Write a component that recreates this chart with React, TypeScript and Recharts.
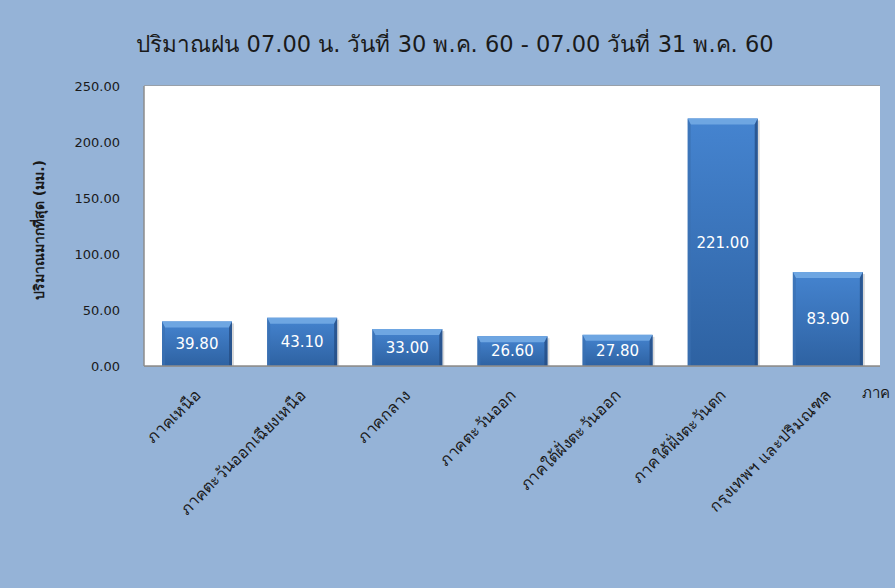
import { Bar, BarChart, CartesianGrid, LabelList, XAxis, YAxis } from 'recharts'

const regions = [
  'ภาคเหนือ',
  'ภาคตะวันออกเฉียงเหนือ',
  'ภาคกลาง',
  'ภาคตะวันออก',
  'ภาคใต้ฝั่งตะวันออก',
  'ภาคใต้ฝั่งตะวันตก',
  'กรุงเทพฯ และปริมณฑล',
]
const maxRain = [39.8, 43.1, 33.0, 26.6, 27.8, 221.0, 83.9]
const yTicks = [0, 50, 100, 150, 200, 250]

const title = 'ปริมาณฝน 07.00 น. วันที่ 30 พ.ค. 60 - 07.00 วันที่ 31 พ.ค. 60'
const yLabel = 'ปริมาณมากที่สุด (มม.)'
const xLabel = 'ภาค'

const data = regions.map((name, i) => ({ name, rain: maxRain[i] }))

const FONT = "Tahoma, 'DejaVu Sans', 'Noto Sans', sans-serif"
const BG = '#95b3d7'
const TEXT = '#1a1a1a'

function BevelBar(props: any) {
  const { x, y, width, height } = props
  if (!height || height <= 0) return null
  const b = Math.min(6, height / 3)
  const s = 3
  return (
    <g>
      <rect x={x + 2} y={y + 2} width={width} height={height - 2} fill="#000" opacity={0.15} />
      <rect x={x} y={y} width={width} height={height} fill="url(#barBody)" />
      <polygon
        points={`${x},${y} ${x + width},${y} ${x + width - s},${y + b} ${x + s},${y + b}`}
        fill="#6ea6e2"
      />
      <polygon
        points={`${x},${y} ${x + s},${y + b} ${x + s},${y + height} ${x},${y + height}`}
        fill="#3b70b2"
        opacity={0.7}
      />
      <polygon
        points={`${x + width},${y} ${x + width - s},${y + b} ${x + width - s},${y + height} ${x + width},${y + height}`}
        fill="#264e84"
        opacity={0.8}
      />
    </g>
  )
}

function RegionTick(props: any) {
  const { x, y, payload } = props
  return (
    <g transform={`translate(${x + 5},${y + 22})`}>
      <text
        transform="rotate(-45)"
        textAnchor="end"
        fontSize={16}
        fontFamily={FONT}
        fill={TEXT}
      >
        {payload.value}
      </text>
    </g>
  )
}

export default function App() {
  return (
    <div
      style={{
        position: 'absolute',
        left: 0,
        top: 0,
        width: 895,
        height: 588,
        background: BG,
        fontFamily: FONT,
      }}
    >
      <div
        style={{
          position: 'absolute',
          top: 26,
          left: 0,
          width: 910,
          textAlign: 'center',
          fontSize: 22.5,
          color: TEXT,
          whiteSpace: 'nowrap',
        }}
      >
        {title}
      </div>
      <BarChart
        width={895}
        height={588}
        data={data}
        margin={{ top: 86, right: 15, left: 0, bottom: 0 }}
        barSize={70}
      >
        <defs>
          <linearGradient id="barBody" x1="0" y1="0" x2="0" y2="1">
            <stop offset="0%" stopColor="#4584d0" />
            <stop offset="100%" stopColor="#2e62a2" />
          </linearGradient>
        </defs>
        <rect x={144} y={86} width={736} height={280} fill="#ffffff" />
        <CartesianGrid vertical={false} stroke="#9a9a9a" strokeWidth={1.5} />
        <XAxis
          dataKey="name"
          height={222}
          interval={0}
          tickLine={false}
          axisLine={{ stroke: '#8c8c8c', strokeWidth: 1.5 }}
          tick={<RegionTick />}
          label={({ viewBox }: any) => (
            <text
              x={viewBox.x + viewBox.width - 18}
              y={viewBox.y + 32}
              fontSize={15}
              fontFamily={FONT}
              fill={TEXT}
            >
              {xLabel}
            </text>
          )}
        />
        <YAxis
          width={144}
          domain={[0, 250]}
          ticks={yTicks}
          interval={0}
          tickLine={false}
          tickSize={0}
          tickMargin={24}
          axisLine={{ stroke: '#8c8c8c', strokeWidth: 1.5 }}
          tickFormatter={(v: number) => v.toFixed(2)}
          tick={{ fontSize: 13, fill: TEXT, fontFamily: FONT }}
          label={({ viewBox }: any) => (
            <text
              x={40}
              y={viewBox.y + viewBox.height / 2 + 4}
              transform={`rotate(-90, 40, ${viewBox.y + viewBox.height / 2 + 4})`}
              textAnchor="middle"
              dominantBaseline="middle"
              fontSize={14}
              fontWeight="bold"
              fontFamily={FONT}
              fill={TEXT}
            >
              {yLabel}
            </text>
          )}
        />
        <Bar dataKey="rain" shape={<BevelBar />} isAnimationActive={false}>
          <LabelList
            dataKey="rain"
            position="center"
            fill="#ffffff"
            fontSize={15}
            fontFamily={FONT}
            formatter={(v: any) => Number(v).toFixed(2)}
          />
        </Bar>
      </BarChart>
    </div>
  )
}
